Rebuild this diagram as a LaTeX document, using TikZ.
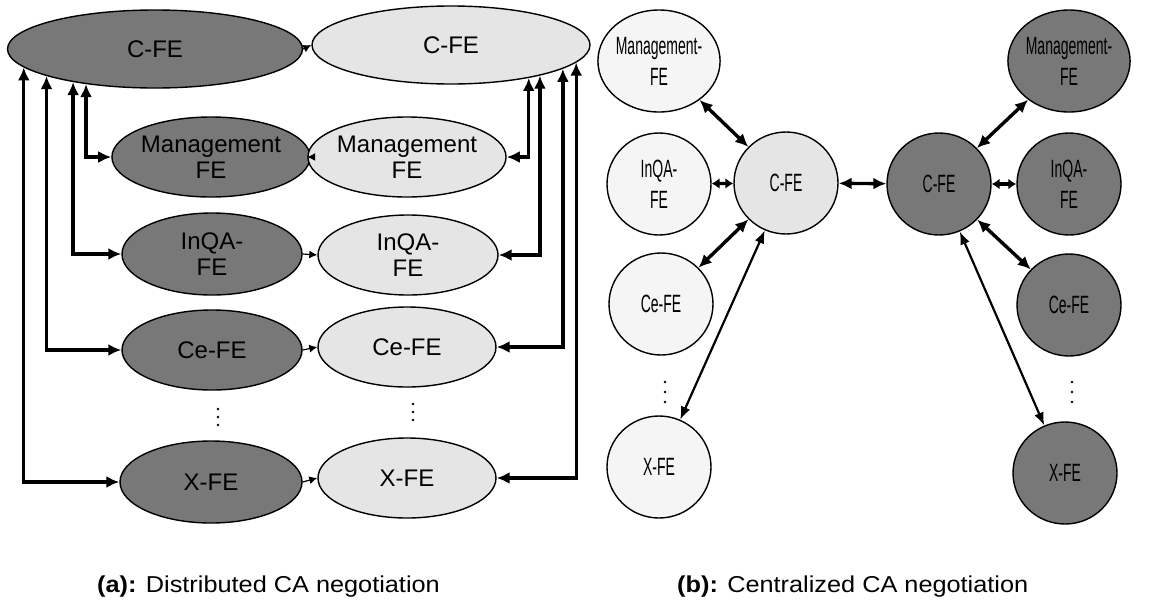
\documentclass[tikz,border=0pt]{standalone}
\usepackage{fontspec}
\setmainfont{Liberation Sans}
\newfontfamily\narrowfont[FakeStretch=0.56]{Liberation Sans}
\newfontfamily\capfont[FakeStretch=1.1]{Liberation Sans}
\usetikzlibrary{shapes.geometric,arrows.meta}

\definecolor{darkgray}{gray}{0.47}
\definecolor{lightgray}{gray}{0.90}
\definecolor{palegray}{gray}{0.96}

\tikzset{
  fe/.style={ellipse, draw=black, line width=1.4pt, inner sep=0pt, align=center,
    font=\fontsize{24}{26}\selectfont},
  dark/.style={fe, fill=darkgray},
  light/.style={fe, fill=lightgray},
  pale/.style={fe, fill=palegray},
  ball/.style={minimum width=104pt, minimum height=102pt,
    font=\narrowfont\fontsize{25}{31}\selectfont},
  link/.style={line width=3.4pt, line join=miter,
    {Latex[length=13pt,width=12pt]}-{Latex[length=13pt,width=12pt]}},
  shortlink/.style={line width=3.4pt,
    {Latex[length=8pt,width=11pt]}-{Latex[length=8pt,width=11pt]}},
  thinlink/.style={line width=2.2pt,
    {Latex[length=13pt,width=10pt]}-{Latex[length=13pt,width=10pt]}},
  tick/.style={line width=1.2pt, -{Latex[length=8pt,width=8pt]}},
  caption/.style={anchor=base west, inner sep=0pt, font=\capfont\fontsize{23}{26}\selectfont},
  dot/.style={fill=black}
}

\begin{document}
\begin{tikzpicture}[x=1pt,y=-1pt]
\useasboundingbox (0,0) rectangle (1156,603);

% ---------- (a) distributed negotiation ----------
\node[dark,  minimum width=295pt, minimum height=78pt] (dC)  at (155,49)  {C-FE};
\node[light, minimum width=278pt, minimum height=78pt] (lC)  at (451,45)  {C-FE};

\node[dark,  minimum width=182pt, minimum height=80pt] (dM)  at (211,157) {Management\\FE};
\node[light, minimum width=180pt, minimum height=80pt] (lM)  at (407,157) {Management\\FE};
\node[dark,  minimum width=180pt, minimum height=82pt] (dI)  at (212,254) {InQA-\\FE};
\node[light, minimum width=180pt, minimum height=80pt] (lI)  at (408,255) {InQA-\\FE};
\node[dark,  minimum width=180pt, minimum height=80pt] (dCe) at (212,350) {Ce-FE};
\node[light, minimum width=178pt, minimum height=80pt] (lCe) at (407,347) {Ce-FE};
\node[dark,  minimum width=182pt, minimum height=82pt] (dX)  at (211,482) {X-FE};
\node[light, minimum width=178pt, minimum height=80pt] (lX)  at (407,478) {X-FE};

% continuation dots
\foreach \yy in {409,417,425} {
  \fill[dot] (218,\yy) circle (1.4pt);
  \fill[dot] (413,\yy-5) circle (1.4pt);
}

% dark to light pairing
\draw[tick] (dC.east)  -- (lC.west);
\draw[tick] (dM.east)  -- (lM.west);
\draw[tick] (dI.east)  -- (lI.west);
\draw[tick] (dCe.east) -- (lCe.west);
\draw[tick] (dX.east)  -- (lX.west);

% dark C-FE to its FEs
\draw[link] (dC.188) |- (dX.west);
\draw[link] (dC.194) |- (dCe.west);
\draw[link] (dC.202) |- (dI.west);
\draw[link] (dC.207) |- (dM.west);

% light C-FE to its FEs
\draw[link] (lC.337) |- (lM.east);
\draw[link] (lC.341) |- (lI.east);
\draw[link] (lC.348) |- (lCe.east);
\draw[link] (lC.352) |- (lX.east);

% ---------- (b) centralized negotiation ----------
\node[pale,  ball] (bM)  at (659,61)  {Management-\\FE};
\node[pale,  ball] (bI)  at (659,184) {InQA-\\FE};
\node[pale,  ball] (bCe) at (661,304) {Ce-FE};
\node[pale,  ball] (bX)  at (659,467) {X-FE};
\node[light, ball] (bC)  at (786,183) {C-FE};

\node[dark, ball] (cC)  at (939,184) {C-FE};
\node[dark, ball] (cM)  at (1069,61)  {Management-\\FE};
\node[dark, ball] (cI)  at (1069,184) {InQA-\\FE};
\node[dark, ball] (cCe) at (1069,305) {Ce-FE};
\node[dark, ball] (cX)  at (1065,473) {X-FE};

\foreach \yy in {382,392,402} {
  \fill[dot] (665,\yy) circle (1.4pt);
  \fill[dot] (1072,\yy) circle (1.4pt);
}

\draw[link] (bM)  -- (bC);
\draw[shortlink] (bI)  -- (bC);
\draw[link] (bCe) -- (bC);
\draw[thinlink] (bX) -- (bC);
\draw[link] (bC)  -- (cC);
\draw[link] (cC)  -- (cM);
\draw[shortlink] (cC)  -- (cI);
\draw[link] (cC)  -- (cCe);
\draw[thinlink] (cC) -- (cX);

% ---------- captions ----------
\node[caption] (capA) at (97,592)  {\textbf{(a):} Distributed CA negotiation};
\node[caption] (capB) at (677,592) {\textbf{(b):} Centralized CA negotiation};
\end{tikzpicture}
\end{document}
